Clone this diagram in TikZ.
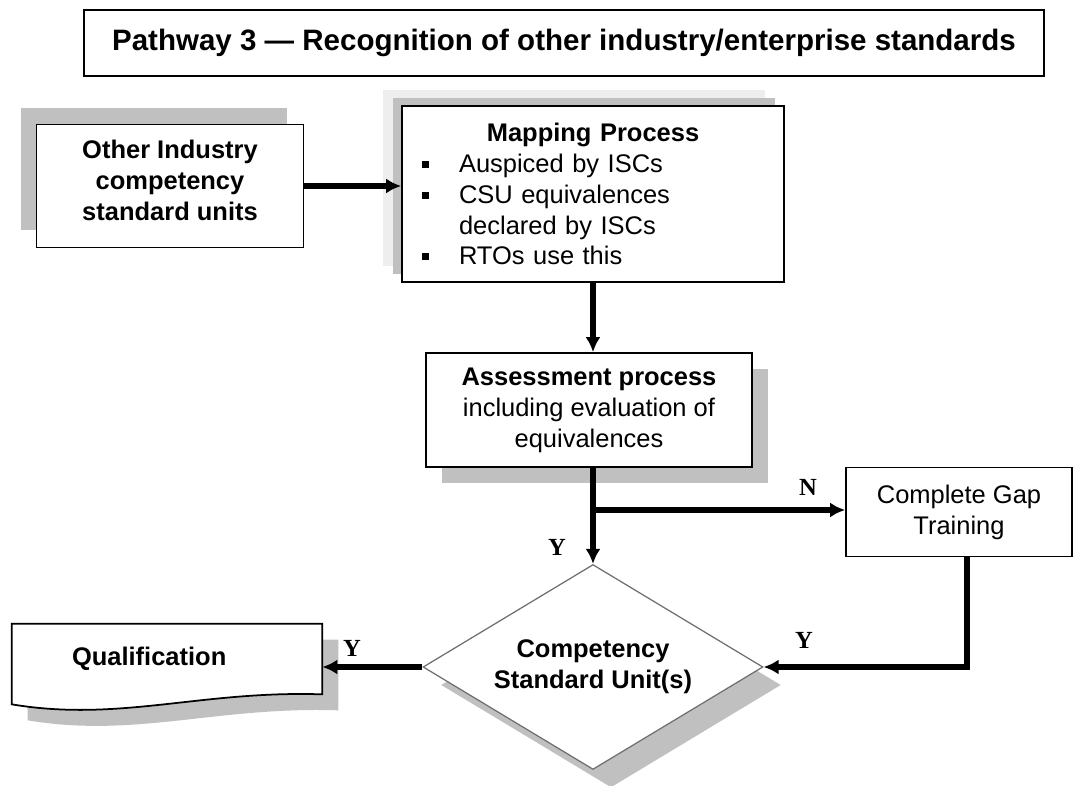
\documentclass[tikz,border=0pt]{standalone}
\usepackage{fontspec}
\setmainfont{Liberation Sans}
\newfontfamily\ynfont{Liberation Serif}
\usepackage{tikz}
\usetikzlibrary{arrows.meta}
\usetikzlibrary{shapes.geometric}
\usetikzlibrary{shadows}
\usetikzlibrary{calc}
\definecolor{shadegray}{RGB}{192,192,192}
\definecolor{paleshade}{RGB}{238,238,238}
\definecolor{diaedge}{RGB}{110,110,110}
\newcommand{\mapbullet}{\makebox[0.74cm][l]{\raisebox{0.09cm}{\rule{0.14cm}{0.14cm}}}}
\tikzstyle{procbox}=[rectangle, draw=black, line width=1pt, fill=white, inner sep=0pt]
\tikzstyle{titlebox}=[procbox, minimum width=19.2cm, minimum height=1.32cm]
\tikzstyle{shadeul}=[drop shadow={shadow xshift=-0.32cm, shadow yshift=0.34cm, fill=shadegray, opacity=1}]
\tikzstyle{shadedr}=[drop shadow={shadow xshift=0.32cm, shadow yshift=-0.32cm, fill=shadegray, opacity=1}]
\tikzstyle{decision}=[diamond, shape aspect=1.66, draw=diaedge, line width=0.7pt, fill=white, inner sep=0pt, align=center]
\tikzstyle{ynlabel}=[font=\ynfont\bfseries\fontsize{14pt}{16pt}\selectfont, inner sep=0pt]
\tikzstyle{flow}=[->, line width=2.9pt, black]

\begin{document}
\begin{tikzpicture}[x=0.02cm, y=-0.02cm, >={Latex[length=8.5pt,width=8.5pt]}, font=\fontsize{14.5pt}{17.6pt}\selectfont]
	\useasboundingbox (0,0) rectangle (1075,786);
	\node (title) at (564,43) [titlebox] {\fontsize{16.8pt}{20pt}\selectfont\bfseries Pathway 3 — Recognition of other industry/enterprise standards};
	\node (other) at (170,186) [procbox, shadeul, minimum width=5.34cm, minimum height=2.46cm, align=center]
		{\bfseries Other Industry\\\bfseries competency\\\bfseries standard units\\[-0.58cm]\strut};
	\node (mapping) at (593,194) [procbox, minimum width=7.64cm, minimum height=3.52cm, text width=6.84cm, inner xsep=0.4cm, align=left,
		drop shadow={shadow xshift=-0.38cm, shadow yshift=0.32cm, fill=paleshade, opacity=1},
		drop shadow={shadow xshift=-0.18cm, shadow yshift=0.16cm, fill=shadegray, opacity=1}]
		{\makebox[6.84cm][c]{\bfseries Mapping Process}\\
		\mapbullet Auspiced by ISCs\\
		\mapbullet CSU equivalences\\
		\hspace*{0.74cm}declared by ISCs\\
		\mapbullet RTOs use this};
	\node (assess) at (589,410) [procbox, shadedr, minimum width=6.52cm, minimum height=2.28cm, align=center]
		{\bfseries Assessment process\\including evaluation of\\equivalences};
	\node (gap) at (959,512) [procbox, minimum width=4.52cm, minimum height=1.78cm, align=center]
		{Complete Gap\\Training};
	\node (csu) at (593,667) [decision, minimum width=6.8cm, minimum height=4.1cm,
		drop shadow={shadow xshift=0.36cm, shadow yshift=-0.36cm, fill=shadegray, opacity=1}]
		{\bfseries Competency\\\bfseries Standard Unit(s)};
	\node (qual) at (167,659) [minimum width=6.2cm, minimum height=1.4cm, text width=3.8cm, inner xsep=1.2cm, inner ysep=0pt, align=left] {};
	% document shape of the qualification
	\draw[line width=1pt, fill=white, drop shadow={shadow xshift=0.32cm, shadow yshift=-0.32cm, fill=shadegray, opacity=1}]
		(qual.north west) -- (qual.north east) -- (qual.south east)
		.. controls +(-122,-4) and +(108,18) .. ($(qual.south west)+(0,10)$) -- cycle;
	\node (qualtext) at (qual.center) [text width=3.8cm, align=left] {\bfseries Qualification};
	\coordinate (split) at (593,510);
	\coordinate (gapout) at (967,557);
	% connectors
	\path[flow]
		(other.east) edge (other.east -| mapping.west)
		(mapping.south -| csu.north) edge (mapping.south |- assess.north)
		(split) edge (split -| gap.west)
		(csu.west) edge (csu.west -| qual.east);
	\draw[flow] (csu.north |- assess.south) -- (csu.north);
	\draw[flow] (gapout) -- (gapout |- csu.east) -- (csu.east);
	\node (ytop) at (557,547) [ynlabel] {Y};
	\node (nright) at (808,487) [ynlabel] {N};
	\node (ygap) at (804,640) [ynlabel] {Y};
	\node (yqual) at (352,648) [ynlabel] {Y};
\end{tikzpicture}
\end{document}
